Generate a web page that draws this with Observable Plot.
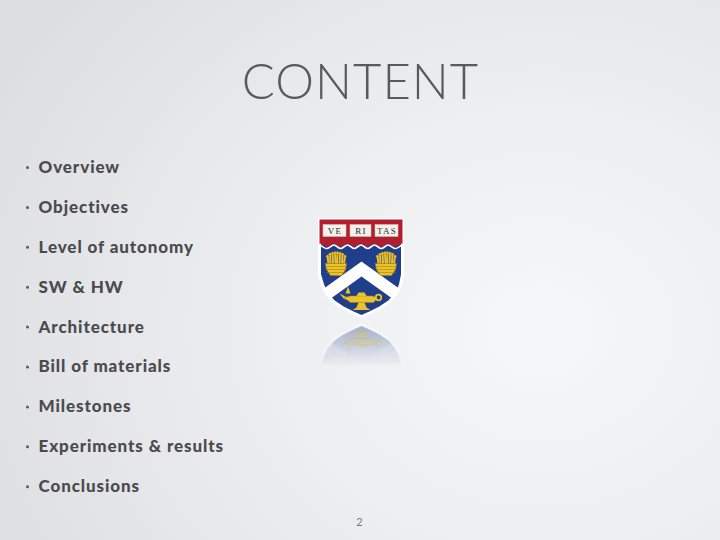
<!DOCTYPE html>
<html>
<head>
<meta charset="utf-8">
<script src="https://cdn.jsdelivr.net/npm/d3@7"></script>
<script src="https://cdn.jsdelivr.net/npm/@observablehq/plot@0.6"></script>
<style>
  html, body { margin: 0; padding: 0; }
  body {
    width: 720px; height: 540px; overflow: hidden;
    background: radial-gradient(ellipse 620px 520px at 540px 330px, #f6f7f8 0%, #eceef0 45%, #dcdee1 100%);
  }
  g[aria-description="title"] text { letter-spacing: 1px; }
  g[aria-description="bullets"] text { letter-spacing: 0.9px; }
  g[aria-description="books"] text { letter-spacing: 1.2px; }
</style>
</head>
<body>
<div id="chart"></div>
<script>
// ---- slide content ----
const title = "CONTENT";
const bullets = [
  "Overview",
  "Objectives",
  "Level of autonomy",
  "SW & HW",
  "Architecture",
  "Bill of materials",
  "Milestones",
  "Experiments & results",
  "Conclusions"
];
const pageNumber = "2";
const bookLabels = ["VE", "RI", "TAS"];

// ---- shield emblem shapes (slide pixel space) ----
const shieldOutline = [[319,219],[402,219],[402,274],[400,284],[396,293],[389,301],[380,307],[370,312],[361,316],[352,312],[342,307],[333,301],[326,293],[322,284],[319,274]];
const waveLine = [[320,243.5],[326.75,247],[333.5,243.5],[340.25,247],[347,243.5],[353.75,247],[360.5,243.5],[367.25,247],[374,243.5],[380.75,247],[387.5,243.5],[394.25,247],[401,243.5]];
const books = [[323,346],[350,371],[375,398]];
const chevron = [[361,261],[400,289],[391,297.5],[361,276],[331,297.5],[322,289]];
const sheafBowl = [[325,263],[346,263],[345,269],[341,275],[330,275],[326,269]];
const sheafBands = [266, 269, 272];
const sheafStalks = [[327,256,328,263],[329.5,254,330,263],[332,253,332.5,263],[334.5,252.5,335,263],[337,252.5,336.5,263],[339.5,253,339,263],[342,254,341.5,263],[344.5,256,343.5,263]];
const sheafCenters = [0, 50];
const lampBody = [[344,297],[350,295.5],[372,295.5],[377,297.5],[373,302],[350,302]];
const lampSpout = [[339,293],[345,296],[348,300],[343,298]];
const lampFlame = [[345,293],[347.5,286],[350,293]];
const lampLid = [[356,295.5],[358,292],[364,292],[366,295.5]];
const lampFoot = [[358,302],[364,302],[366,307],[370,309.5],[352,309.5],[356,307]];
const lampHandle = [[378,297]];

const BLUE = "#1f3f8c", RED = "#b11f2f", GOLD = "#ecc22b", GOLD_D = "#a98310";
const MIRROR = 640;

function poly(pts, opts, mirror, op) {
  return Plot.line(pts, {
    x: d => d[0], y: d => mirror ? MIRROR - d[1] : d[1],
    curve: "linear-closed", stroke: "none", opacity: op,
    ariaDescription: mirror ? "reflection" : "emblem", ...opts
  });
}

function emblem(mirror) {
  const op = mirror ? 0.4 : 1;
  const lab = mirror ? "reflection" : "emblem";
  const Y = v => mirror ? MIRROR - v : v;
  const marks = [
    poly(shieldOutline, {fill: BLUE, stroke: "white", strokeWidth: 3, strokeLinejoin: "round"}, mirror, op),
    poly(chevron, {fill: "white"}, mirror, op)
  ];
  for (const dx of sheafCenters) {
    marks.push(
      Plot.link(sheafStalks, {x1: d => d[0] + dx, y1: d => Y(d[1]), x2: d => d[2] + dx, y2: d => Y(d[3]), stroke: GOLD, strokeWidth: 2, opacity: op, ariaDescription: lab}),
      Plot.dot(sheafStalks, {x: d => d[0] + dx, y: d => Y(d[1]), r: 1.4, fill: GOLD, stroke: GOLD_D, strokeWidth: 0.4, opacity: op, ariaDescription: lab}),
      poly(sheafBowl.map(p => [p[0] + dx, p[1]]), {fill: GOLD, stroke: GOLD_D, strokeWidth: 0.6}, mirror, op),
      Plot.link(sheafBands, {x1: 326 + dx, x2: 345 + dx, y1: d => Y(d), y2: d => Y(d), stroke: GOLD_D, strokeWidth: 0.6, opacity: op, ariaDescription: lab})
    );
  }
  marks.push(
    poly(lampSpout, {fill: GOLD}, mirror, op),
    poly(lampBody, {fill: GOLD, stroke: GOLD_D, strokeWidth: 0.5}, mirror, op),
    poly(lampLid, {fill: GOLD}, mirror, op),
    poly(lampFlame, {fill: GOLD}, mirror, op),
    poly(lampFoot, {fill: GOLD}, mirror, op),
    Plot.dot(lampHandle, {x: d => d[0], y: d => Y(d[1]), r: 2.8, stroke: GOLD, strokeWidth: 1.8, fill: "none", opacity: op, ariaDescription: lab})
  );
  if (!mirror) {
    marks.push(
      poly([[319,219],[402,219],[402,243.5],...waveLine.slice().reverse().map(p => [p[0], p[1] - 0.5]),[319,243.5]], {fill: RED}, false, 1),
      Plot.line(waveLine, {x: d => d[0], y: d => d[1] + 1, stroke: "white", strokeWidth: 1.6, curve: "natural"}),
      Plot.rect(books, {x1: d => d[0], x2: d => d[1], y1: 224.5, y2: 236.5, fill: "#f4f1ea", stroke: "#c9c3b5", strokeWidth: 0.6}),
      Plot.text(bookLabels, {x: (d, i) => (books[i][0] + books[i][1]) / 2, y: 231, text: d => d, fontFamily: "Liberation Serif, DejaVu Serif, serif", fontSize: 9, fill: "#2a2a35", ariaDescription: "books"})
    );
  }
  return marks;
}

const plot = Plot.plot({
  width: 720, height: 540,
  margin: 0,
  style: {background: "none", overflow: "visible"},
  x: {type: "linear", domain: [0, 720], range: [0, 720], axis: null},
  y: {type: "linear", domain: [0, 540], range: [0, 540], axis: null},
  marks: [
    // title
    Plot.text([title], {x: 360, y: 83, text: d => d, fontSize: 49, fontWeight: 300, fontFamily: "Lato, 'Open Sans', sans-serif", fill: "#5a5a5c", ariaDescription: "title"}),
    // bullets
    Plot.dot(bullets, {x: 27, y: (d, i) => 167 + i * 39.9, r: 1.5, fill: "#5a5a5a", stroke: "none"}),
    Plot.text(bullets, {x: 38, y: (d, i) => 167 + i * 39.9, text: d => d, textAnchor: "start", fontSize: 17, fontWeight: 900, fontFamily: "Lato, 'Open Sans', sans-serif", fill: "#4b4b4d", ariaDescription: "bullets"}),
    // reflection
    ...emblem(true),
    // emblem
    ...emblem(false),
    // page number
    Plot.text([pageNumber], {x: 359, y: 522, text: d => d, fontSize: 11, fontFamily: "Lato, sans-serif", fill: "#7a7a7c"})
  ]
});

const svg = d3.select(plot);
const defs = svg.insert("defs", ":first-child");
const g = defs.append("linearGradient").attr("id", "fadeGrad")
  .attr("gradientUnits", "userSpaceOnUse").attr("x1", 0).attr("y1", 322).attr("x2", 0).attr("y2", 366);
g.append("stop").attr("offset", "0%").attr("stop-color", "white").attr("stop-opacity", 1);
g.append("stop").attr("offset", "100%").attr("stop-color", "white").attr("stop-opacity", 0);
const mask = defs.append("mask").attr("id", "fadeMask").attr("maskUnits", "userSpaceOnUse")
  .attr("x", 0).attr("y", 0).attr("width", 720).attr("height", 540);
mask.append("rect").attr("x", 0).attr("y", 0).attr("width", 720).attr("height", 540).attr("fill", "url(#fadeGrad)");
svg.selectAll('g[aria-description="reflection"]').attr("mask", "url(#fadeMask)");

document.getElementById("chart").appendChild(plot);
</script>
</body>
</html>
